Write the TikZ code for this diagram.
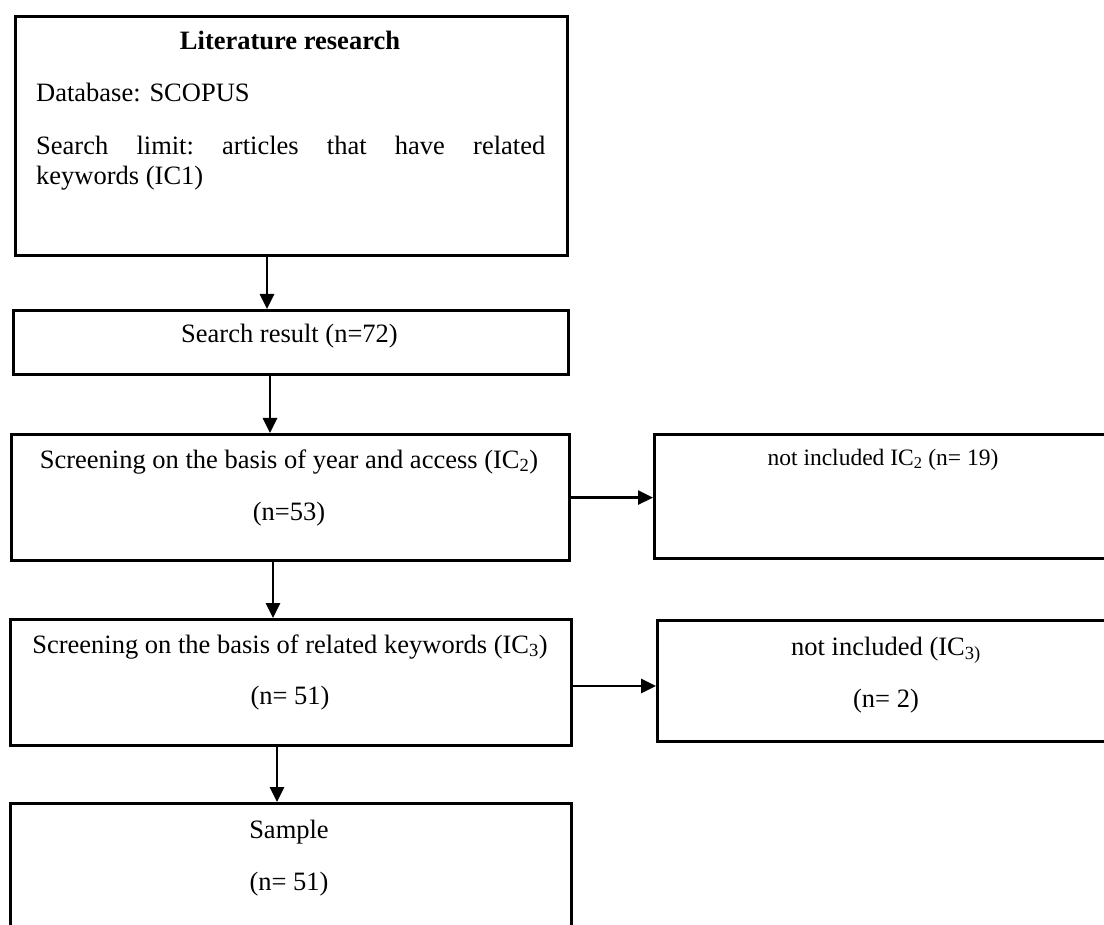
\documentclass[tikz,border=0pt]{standalone}
\usepackage{fontspec}
\setmainfont{Liberation Serif}
\usetikzlibrary{arrows.meta}
\begin{document}
\begin{tikzpicture}[x=1pt,y=-1pt,
  box/.style={draw, line width=3.2pt, rectangle, anchor=north west, inner sep=0pt},
  arr/.style={line width=2.6pt, -{Triangle[length=15pt,width=14pt]}},
  txt/.style={inner sep=0pt, anchor=base, font=\fontsize{26.5}{31}\selectfont},
  smalltxt/.style={inner sep=0pt, anchor=base, font=\fontsize{23.5}{28}\selectfont},
]
\clip (0,0) rectangle (1104,925);
\fill[white] (0,0) rectangle (1104,925);

% boxes
\node[box, minimum width=552pt, minimum height=239pt] (lit) at (14,15) {};
\node[box, minimum width=555pt, minimum height=64pt] (res) at (12,309) {};
\node[box, minimum width=558pt, minimum height=126pt] (scr1) at (10,433) {};
\node[box, minimum width=460pt, minimum height=124pt] (exc1) at (653,433) {};
\node[box, minimum width=561.5pt, minimum height=126pt] (scr2) at (8.5,618) {};
\node[box, minimum width=457pt, minimum height=121pt] (exc2) at (656,619) {};
\node[box, minimum width=561.4pt, minimum height=170pt] (samp) at (8.6,802) {};

% texts
\node[txt, font=\bfseries\fontsize{26.5}{31}\selectfont] (t1) at (290,50) {Literature research};
\node[txt, anchor=base west] (t2) at (36,102) {Database: SCOPUS};
\node[txt, anchor=base west] (t3) at (36,155) {\hbox to 509pt{Search\hfill limit:\hfill articles\hfill that\hfill have\hfill related}};
\node[txt, anchor=base west] (t4) at (36,185) {keywords (IC1)};

\node[txt] (t5) at (289.5,343) {Search result (n=72)};

\node[txt] (t6) at (289,468) {Screening on the basis of year and access (IC\textsubscript{2})};
\node[txt] (t7) at (289,520) {(n=53)};

\node[smalltxt] (t8) at (883,465) {not included IC\textsubscript{2} (n= 19)};

\node[txt] (t9) at (290,653) {Screening on the basis of related keywords (IC\textsubscript{3})};
\node[txt] (t10) at (290,704) {(n= 51)};

\node[txt] (t11) at (886,655) {not included (IC\textsubscript{3)}};
\node[txt] (t12) at (886,707) {(n= 2)};

\node[txt] (t13) at (289,838) {Sample};
\node[txt] (t14) at (289,890) {(n= 51)};

% arrows
\draw[arr] (267,0 |- lit.south) -- (267,0 |- res.north);
\draw[arr] (270,0 |- res.south) -- (270,0 |- scr1.north);
\draw[arr] (273,0 |- scr1.south) -- (273,0 |- scr2.north);
\draw[arr] (277,0 |- scr2.south) -- (277,0 |- samp.north);
\draw[arr] (scr1.east) -- (exc1.west |- scr1.east);
\draw[arr] (scr2.east |- 0,686) -- (exc2.west |- 0,686);
\end{tikzpicture}
\end{document}
